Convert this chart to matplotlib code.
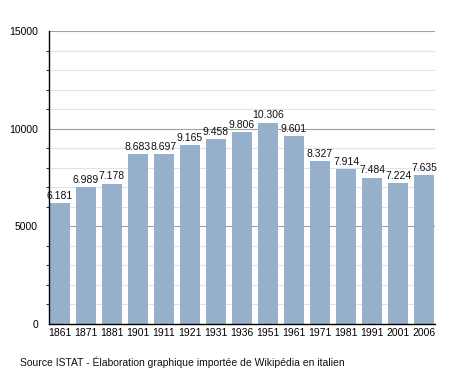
import numpy as np
import matplotlib
matplotlib.use('Agg')
from matplotlib import pyplot as plt

#################### DATA ####################
years = ['1861', '1871', '1881', '1901', '1911', '1921', '1931', '1936',
         '1951', '1961', '1971', '1981', '1991', '2001', '2006']
population = [6181, 6989, 7178, 8683, 8697, 9165, 9458, 9806,
              10306, 9601, 8327, 7914, 7484, 7224, 7635]
source_text = 'Source ISTAT - Élaboration graphique importée de Wikipédia en italien'

def fmt_it(v):
    # italian thousands separator
    return '{:,}'.format(v).replace(',', '.')

#################### PLOT ####################
plt.rcParams['font.family'] = ['Liberation Sans', 'DejaVu Sans']
fig = plt.figure(figsize=(4.64, 3.73), dpi=100)
ax = fig.add_axes([0.1056, 0.1314, 0.8319, 0.7855])

x = np.arange(len(years))
bars = ax.bar(x, population, width=0.8, color='#96afca', zorder=2)
for xi, v in zip(x, population):
    ax.text(xi, v + 120, fmt_it(v), ha='center', va='bottom', fontsize=7.5, color='#111111', zorder=3)

ax.set_xlim(-0.42, len(years) - 0.58)
ax.set_ylim(0, 15000)
ax.set_xticks(x)
ax.set_xticklabels(years, fontsize=7.5)
ax.set_yticks([0, 5000, 10000, 15000])
ax.set_yticklabels(['0', '5000', '10000', '15000'], fontsize=7.5)
ax.set_yticks(np.arange(0, 15001, 1000), minor=True)
ax.tick_params(axis='x', length=0, pad=3)
ax.tick_params(axis='y', which='major', length=0, pad=8)
ax.tick_params(axis='y', which='minor', length=2.5, direction='out')
ax.grid(axis='y', which='minor', color='#e3e3e3', linewidth=0.8, zorder=0)
ax.grid(axis='y', which='major', color='#a0a0a0', linewidth=0.8, zorder=1)
for s in ['top', 'right']:
    ax.spines[s].set_visible(False)
ax.spines['left'].set_linewidth(1.0)
ax.spines['bottom'].set_linewidth(1.0)
ax.spines['bottom'].set_zorder(4)

fig.text(0.043, 0.02, source_text, fontsize=7.5, color='#111111')
fig.savefig('out.png', dpi=100)
